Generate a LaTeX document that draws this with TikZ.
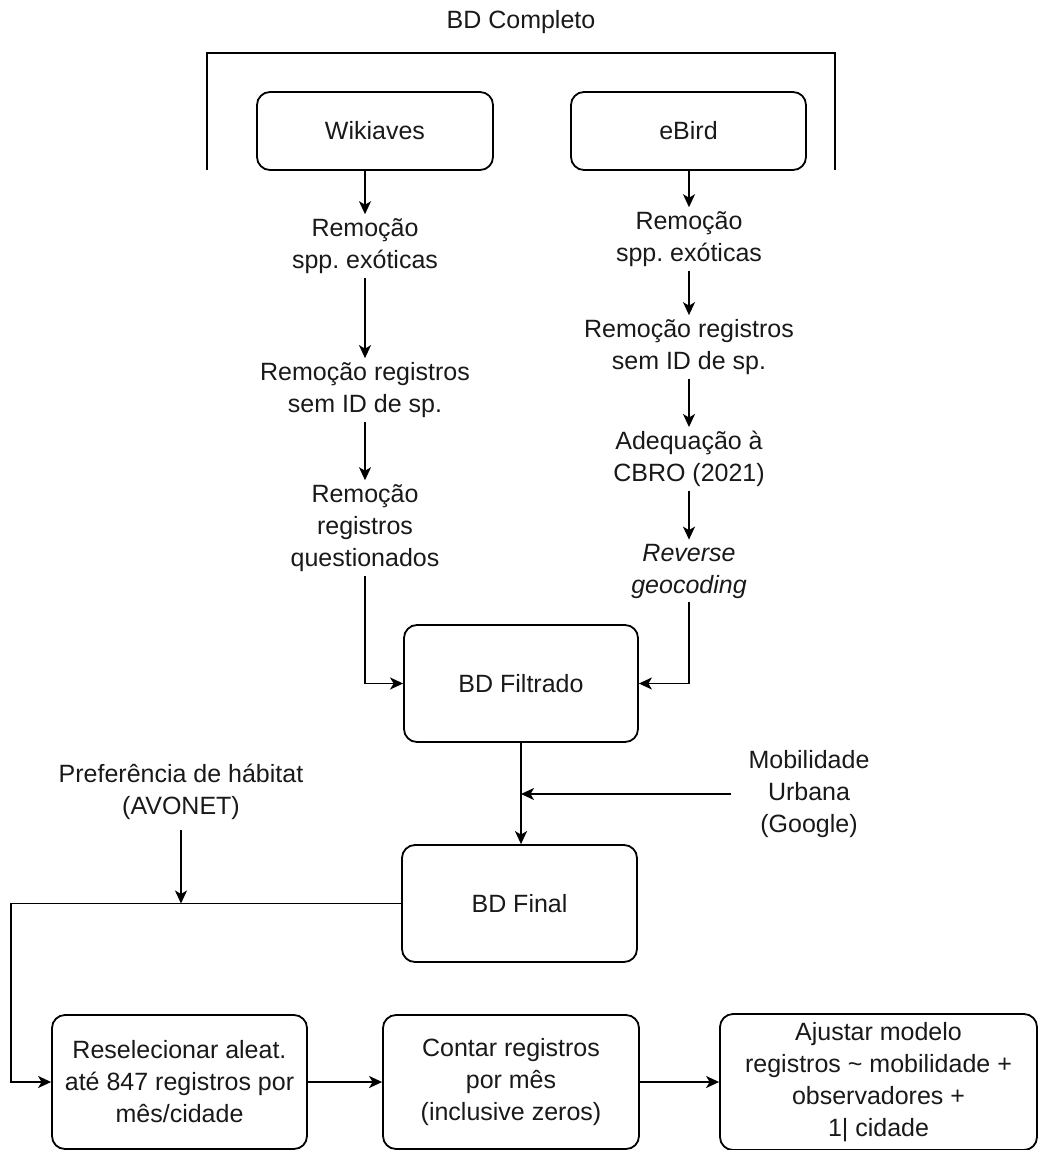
\documentclass[tikz,border=0pt]{standalone}
\usepackage{fontspec}
\setmainfont{Liberation Sans}
\usetikzlibrary{arrows.meta}
\frenchspacing
\begin{document}
\begin{tikzpicture}[x=1pt,y=-1pt,
  every node/.style={font=\fontsize{25}{32}\selectfont\frenchspacing, align=center, text=black!90},
  box/.style={draw, line width=1.8pt, rounded corners=13pt, inner sep=0pt},
  lbl/.style={inner sep=4pt},
  arr/.style={line width=1.8pt, -{Stealth[length=13pt,width=12pt,inset=3.5pt]}},
  ln/.style={line width=1.8pt}]
\useasboundingbox (0,0) rectangle (1041,1150);

% top bracket
\node (bdc) at (521,22) {BD Completo};
\draw[ln] (207,170) -- (207,53) -- (835,53) -- (835,170);

% boxes
\node[box, minimum width=236pt, minimum height=78pt] (wik) at (375,131) {Wikiaves};
\node[box, minimum width=235pt, minimum height=78pt] (ebd) at (688.5,131) {eBird};
\node[box, minimum width=234pt, minimum height=117pt] (filt) at (521,683.5) {BD Filtrado};
\node[box, minimum width=235pt, minimum height=117pt] (fin) at (519.5,903.5) {BD Final};
\node[box, minimum width=255pt, minimum height=134pt] (res) at (179.5,1082) {Reselecionar aleat.\\até 847 registros por\\mês/cidade};
\node[box, minimum width=256pt, minimum height=134pt] (cont) at (511,1082) {Contar registros\\por mês\\(inclusive zeros)};
\node[box, minimum width=317pt, minimum height=136pt] (aj) at (878.5,1082) {Ajustar modelo\\registros \textasciitilde{} mobilidade +\\observadores +\\1| cidade};

% left column
\node[lbl] (l1) at (365,246) {Remoção\\spp. exóticas};
\node[lbl] (l2) at (365,390) {Remoção registros\\sem ID de sp.};
\node[lbl] (l3) at (365,528) {Remoção\\registros\\questionados};

% right column
\node[lbl] (r1) at (689,239) {Remoção\\spp. exóticas};
\node[lbl] (r2) at (689,347) {Remoção registros\\sem ID de sp.};
\node[lbl] (r3) at (689,459) {Adequação à\\CBRO (2021)};
\node[lbl] (r4) at (689,571) {\textit{Reverse}\\\textit{geocoding}};

% side inputs
\node[lbl] (mob) at (809,794) {Mobilidade\\Urbana\\(Google)};
\node[lbl] (pref) at (181,792) {Preferência de hábitat\\(AVONET)};

% connectors
\draw[arr] (wik.south -| l1) -- (l1.north);
\draw[arr] (l1.south) -- (l2.north);
\draw[arr] (l2.south) -- (l3.north);
\draw[arr] (l3.south) |- (filt.west);

\draw[arr] (ebd.south -| r1) -- (r1.north);
\draw[arr] (r1.south) -- (r2.north);
\draw[arr] (r2.south) -- (r3.north);
\draw[arr] (r3.south) -- (r4.north);
\draw[arr] (r4.south) |- (filt.east);

\coordinate (j) at (filt.south |- 0,794);
\draw[ln] (filt.south) -- (j);
\draw[arr] ([xshift=-13pt]mob.west |- j) -- (j);
\draw[arr] (j) -- (j |- fin.north);

\draw[arr] (fin.west) -- ++(-390,0) |- (res.west);
\draw[arr] ([yshift=-6pt]pref.south) -- (pref.south |- fin.west);

\draw[arr] (res.east) -- (cont.west);
\draw[arr] (cont.east) -- (aj.west);
\end{tikzpicture}
\end{document}
